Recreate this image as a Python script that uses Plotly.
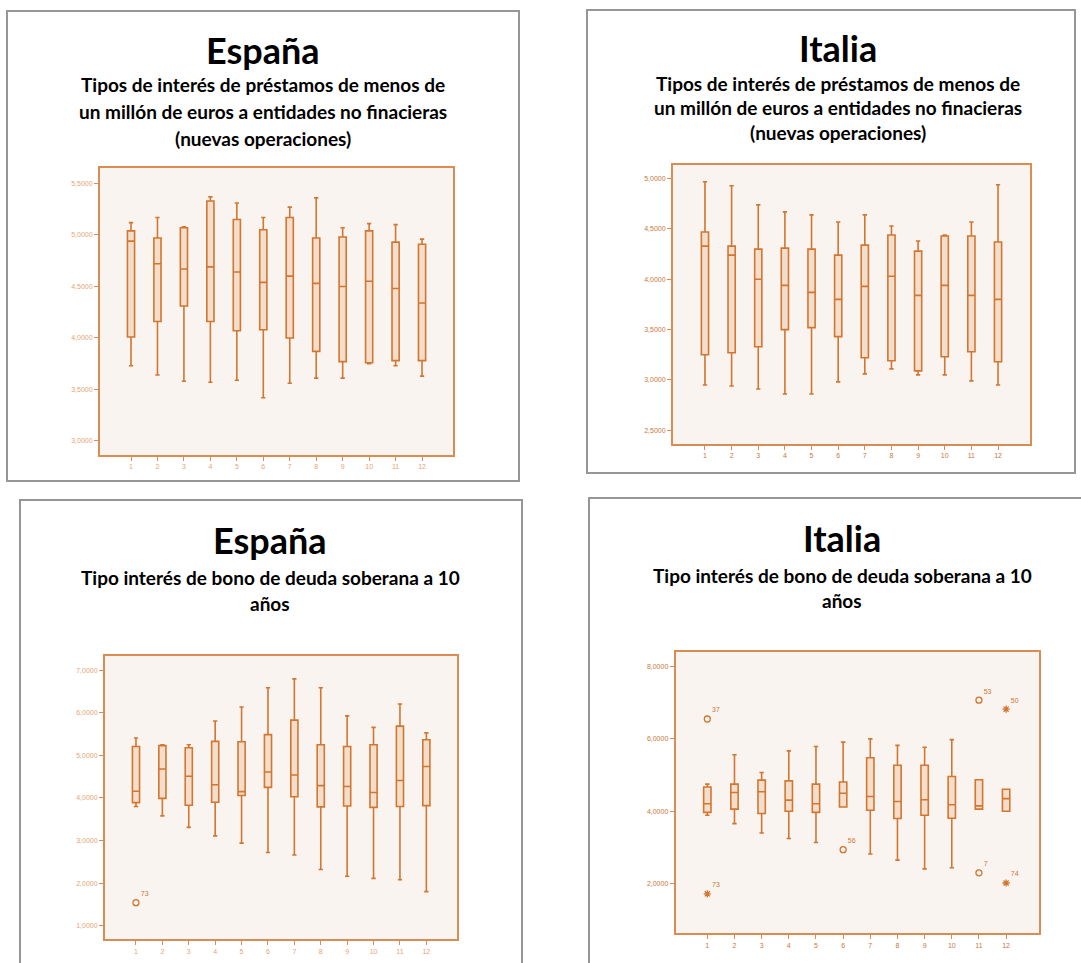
import plotly.graph_objects as go

W, H = 1081, 963

months = list(range(1, 13))
month_labels = [str(m) for m in months]

# ---- Panel 1: España, préstamos < 1M € (nuevas operaciones)
es_loan_low = [3.73, 3.64, 3.58, 3.57, 3.59, 3.42, 3.56, 3.61, 3.61, 3.75, 3.73, 3.63]
es_loan_q1 = [4.01, 4.16, 4.31, 4.16, 4.07, 4.08, 4.00, 3.87, 3.77, 3.76, 3.78, 3.78]
es_loan_med = [4.94, 4.72, 4.67, 4.69, 4.64, 4.54, 4.60, 4.53, 4.50, 4.55, 4.48, 4.34]
es_loan_q3 = [5.04, 4.97, 5.07, 5.33, 5.15, 5.05, 5.17, 4.97, 4.98, 5.04, 4.93, 4.91]
es_loan_high = [5.12, 5.17, 5.08, 5.37, 5.31, 5.17, 5.27, 5.36, 5.07, 5.11, 5.10, 4.96]
es_loan_ticks = [3.0, 3.5, 4.0, 4.5, 5.0, 5.5]
es_loan_ticktext = ["3,0000", "3,5000", "4,0000", "4,5000", "5,0000", "5,5000"]

# ---- Panel 2: Italia, préstamos < 1M €
it_loan_low = [2.95, 2.94, 2.91, 2.86, 2.86, 2.98, 3.06, 3.11, 3.05, 3.05, 2.99, 2.95]
it_loan_q1 = [3.25, 3.27, 3.33, 3.50, 3.52, 3.43, 3.22, 3.19, 3.09, 3.23, 3.28, 3.18]
it_loan_med = [4.33, 4.24, 4.00, 3.94, 3.87, 3.80, 3.93, 4.03, 3.84, 3.94, 3.84, 3.80]
it_loan_q3 = [4.47, 4.33, 4.30, 4.31, 4.30, 4.24, 4.34, 4.44, 4.28, 4.43, 4.43, 4.37]
it_loan_high = [4.97, 4.93, 4.74, 4.67, 4.64, 4.57, 4.64, 4.53, 4.38, 4.44, 4.57, 4.94]
it_loan_ticks = [2.5, 3.0, 3.5, 4.0, 4.5, 5.0]
it_loan_ticktext = ["2,5000", "3,0000", "3,5000", "4,0000", "4,5000", "5,0000"]

# ---- Panel 3: España, bono 10 años
es_bond_low = [3.80, 3.58, 3.31, 3.11, 2.94, 2.72, 2.66, 2.32, 2.16, 2.11, 2.08, 1.80]
es_bond_q1 = [3.89, 3.99, 3.83, 3.90, 4.06, 4.25, 4.03, 3.79, 3.81, 3.78, 3.80, 3.82]
es_bond_med = [4.16, 4.68, 4.51, 4.31, 4.15, 4.61, 4.54, 4.29, 4.27, 4.13, 4.41, 4.74]
es_bond_q3 = [5.21, 5.23, 5.18, 5.33, 5.32, 5.49, 5.83, 5.25, 5.21, 5.25, 5.69, 5.37]
es_bond_high = [5.41, 5.25, 5.25, 5.81, 6.14, 6.59, 6.80, 6.59, 5.93, 5.66, 6.21, 5.53]
es_bond_out_x = [1]
es_bond_out_y = [1.54]
es_bond_out_lab = ["73"]
es_bond_out_sym = ["circle-open"]
es_bond_ticks = [1, 2, 3, 4, 5, 6, 7]
es_bond_ticktext = ["1,0000", "2,0000", "3,0000", "4,0000", "5,0000", "6,0000", "7,0000"]

# ---- Panel 4: Italia, bono 10 años
it_bond_low = [3.89, 3.66, 3.40, 3.25, 3.14, 4.12, 2.82, 2.65, 2.41, 2.44, 4.06, 4.00]
it_bond_q1 = [3.97, 4.06, 3.94, 4.00, 3.97, 4.12, 4.03, 3.80, 3.89, 3.81, 4.06, 4.00]
it_bond_med = [4.21, 4.52, 4.54, 4.31, 4.21, 4.50, 4.41, 4.27, 4.32, 4.18, 4.15, 4.35]
it_bond_q3 = [4.67, 4.75, 4.86, 4.84, 4.75, 4.81, 5.48, 5.27, 5.27, 4.96, 4.87, 4.61]
it_bond_high = [4.75, 5.56, 5.07, 5.67, 5.79, 5.91, 6.00, 5.82, 5.77, 5.98, 4.87, 4.61]
it_bond_out_x = [1, 1, 6, 11, 11, 12, 12]
it_bond_out_y = [6.55, 1.72, 2.94, 7.07, 2.30, 6.82, 2.02]
it_bond_out_lab = ["37", "73", "56", "53", "7", "50", "74"]
it_bond_out_sym = ["circle-open", "asterisk-open", "circle-open", "circle-open",
                   "circle-open", "asterisk-open", "asterisk-open"]
it_bond_ticks = [2, 4, 6, 8]
it_bond_ticktext = ["2,0000", "4,0000", "6,0000", "8,0000"]


def px(x):
    return x / W


def py(y):
    return 1 - y / H


BOX_LINE = "rgb(210,118,48)"
BOX_FILL = "rgb(243,222,204)"
AXIS_LINE = "rgb(218,140,82)"
PLOT_BG = "rgb(250,244,240)"

fig = go.Figure()

panels = [
    dict(low=es_loan_low, q1=es_loan_q1, med=es_loan_med, q3=es_loan_q3, high=es_loan_high,
         ticks=es_loan_ticks, ticktext=es_loan_ticktext,
         box=(100, 168, 453, 455), yr=(2.864, 5.650), xr=(-0.172, 13.17),
         tickcol="rgb(228,165,118)", out=None),
    dict(low=it_loan_low, q1=it_loan_q1, med=it_loan_med, q3=it_loan_q3, high=it_loan_high,
         ticks=it_loan_ticks, ticktext=it_loan_ticktext,
         box=(673, 165, 1030, 443.7), yr=(2.366, 5.136), xr=(-0.20, 13.20),
         tickcol="rgb(200,120,60)", out=None),
    dict(low=es_bond_low, q1=es_bond_q1, med=es_bond_med, q3=es_bond_q3, high=es_bond_high,
         ticks=es_bond_ticks, ticktext=es_bond_ticktext,
         box=(105, 655.7, 456.7, 939.3), yr=(0.679, 7.344), xr=(-0.174, 13.15),
         tickcol="rgb(228,165,118)",
         out=(es_bond_out_x, es_bond_out_y, es_bond_out_lab, es_bond_out_sym)),
    dict(low=it_bond_low, q1=it_bond_q1, med=it_bond_med, q3=it_bond_q3, high=it_bond_high,
         ticks=it_bond_ticks, ticktext=it_bond_ticktext,
         box=(675.7, 652.3, 1038.7, 933.3), yr=(0.630, 8.392), xr=(-0.164, 13.20),
         tickcol="rgb(200,120,60)",
         out=(it_bond_out_x, it_bond_out_y, it_bond_out_lab, it_bond_out_sym)),
]

layout_axes = {}
for i, p in enumerate(panels, start=1):
    xa = "x" if i == 1 else f"x{i}"
    ya = "y" if i == 1 else f"y{i}"
    fig.add_trace(go.Box(
        x=months, q1=p["q1"], median=p["med"], q3=p["q3"],
        lowerfence=p["low"], upperfence=p["high"],
        xaxis=xa, yaxis=ya, width=0.27, whiskerwidth=0.6,
        line=dict(color=BOX_LINE, width=1.6), fillcolor=BOX_FILL,
        boxpoints=False, showlegend=False, hoverinfo="skip",
    ))
    if p["out"]:
        ox, oy, olab, osym = p["out"]
        fig.add_trace(go.Scatter(
            x=ox, y=oy, mode="markers+text", text=olab, textposition="top right",
            textfont=dict(size=7, color=BOX_LINE, family="Liberation Sans"),
            marker=dict(symbol=osym, size=6, color=BOX_LINE, line=dict(width=1.3, color=BOX_LINE)),
            xaxis=xa, yaxis=ya, showlegend=False, hoverinfo="skip",
        ))
    x0, y0, x1, y1 = p["box"]
    kx = "xaxis" if i == 1 else f"xaxis{i}"
    ky = "yaxis" if i == 1 else f"yaxis{i}"
    layout_axes[kx] = dict(
        domain=[px(x0), px(x1)], anchor=ya, range=list(p["xr"]),
        tickmode="array", tickvals=months, ticktext=month_labels,
        ticks="outside", ticklen=4, tickwidth=1.2, tickcolor=AXIS_LINE,
        tickfont=dict(size=7, color=p["tickcol"], family="Liberation Sans"),
        showline=True, mirror=True, linecolor=AXIS_LINE, linewidth=2,
        showgrid=False, zeroline=False, fixedrange=True,
    )
    layout_axes[ky] = dict(
        domain=[py(y1), py(y0)], anchor=xa, range=list(p["yr"]),
        tickmode="array", tickvals=p["ticks"], ticktext=p["ticktext"],
        ticks="outside", ticklen=4, tickwidth=1.2, tickcolor=AXIS_LINE,
        tickfont=dict(size=7, color=p["tickcol"], family="Liberation Sans"),
        showline=True, mirror=True, linecolor=AXIS_LINE, linewidth=2,
        showgrid=False, zeroline=False, fixedrange=True,
    )

# Card frames
cards = [(7, 11, 519, 481), (587, 10, 1075, 473), (20, 500, 522, 975), (589, 498, 1090, 975)]
shapes = []
for (a, b, c, d) in cards:
    shapes.append(dict(type="rect", xref="paper", yref="paper",
                       x0=px(a), x1=px(c), y0=py(d), y1=py(b),
                       line=dict(color="rgb(150,150,150)", width=2), fillcolor="rgba(0,0,0,0)",
                       layer="below"))

TFONT = "Lato"
annotations = []


def title(x, y, text, size):
    annotations.append(dict(x=px(x), y=py(y), xref="paper", yref="paper", text=text,
                            showarrow=False, xanchor="center", yanchor="middle",
                            font=dict(family=TFONT, size=size, color="black")))


BIG, SUB = 36, 19

title(263, 50, "<b>España</b>", BIG)
title(263, 85, "<b>Tipos de interés de préstamos de menos de</b>", SUB)
title(263, 111, "<b>un millón de euros a entidades no finacieras</b>", SUB)
title(263, 138, "<b>(nuevas operaciones)</b>", SUB)

title(838, 48, "<b>Italia</b>", BIG)
title(838, 83, "<b>Tipos de interés de préstamos de menos de</b>", SUB)
title(838, 107, "<b>un millón de euros a entidades no finacieras</b>", SUB)
title(838, 133, "<b>(nuevas operaciones)</b>", SUB)

title(270, 540, "<b>España</b>", BIG)
title(270, 577, "<b>Tipo interés de bono de deuda soberana a 10</b>", SUB)
title(270, 603, "<b>años</b>", SUB)

title(842, 538, "<b>Italia</b>", BIG)
title(842, 575, "<b>Tipo interés de bono de deuda soberana a 10</b>", SUB)
title(842, 600, "<b>años</b>", SUB)

fig.update_layout(
    width=W, height=H, margin=dict(l=0, r=0, t=0, b=0),
    paper_bgcolor="white", plot_bgcolor=PLOT_BG,
    shapes=shapes, annotations=annotations, showlegend=False,
    **layout_axes,
)

fig.write_html("out.html", post_script="document.body.style.margin='0';document.body.style.overflow='hidden';",
               config={"displayModeBar": False})
